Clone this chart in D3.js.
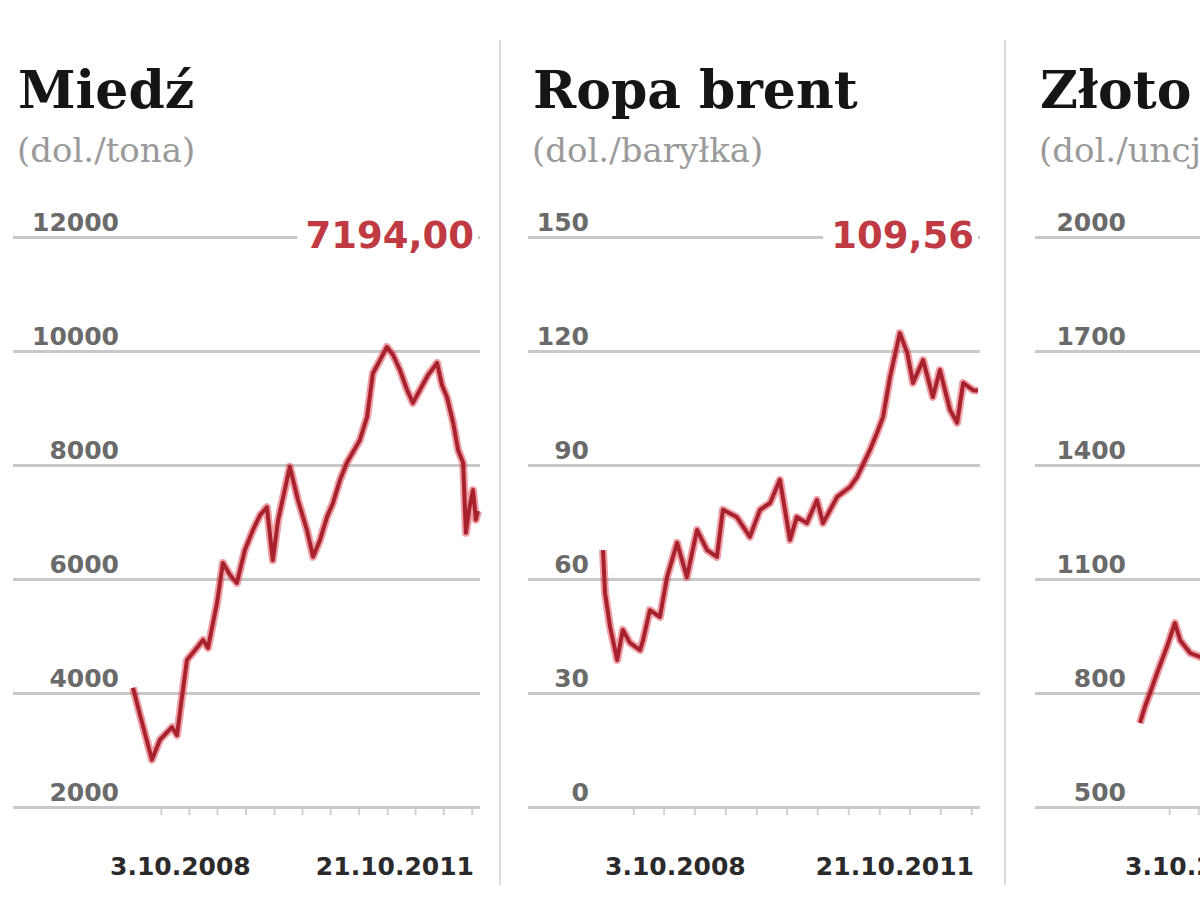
<!DOCTYPE html>
<html>
<head>
<meta charset="utf-8">
<script src="https://cdn.jsdelivr.net/npm/d3@7"></script>
<style>
  body { margin: 0; background: #fff; }
  svg { display: block; }
</style>
</head>
<body>
<svg id="commodities" width="1200" height="923"></svg>
<script>
// Data
const titles = ["Miedź", "Ropa brent", "Złoto"]
const units = ["(dol./tona)", "(dol./baryłka)", "(dol./uncja)"]
const lastLabels = ["7194,00", "109,56", "1640,00"]
const dateLabels = ["3.10.2008", "21.10.2011"]

const copperTicks = [2000, 4000, 6000, 8000, 10000, 12000]
const oilTicks = [0, 30, 60, 90, 120, 150]
const goldTicks = [500, 800, 1100, 1400, 1700, 2000]

const copperDates = ["2008-10-03","2008-10-26","2008-12-03","2008-12-29","2009-02-06","2009-02-22","2009-03-10","2009-03-26","2009-04-21","2009-05-17","2009-06-02","2009-07-01","2009-07-20","2009-08-12","2009-09-03","2009-09-29","2009-10-25","2009-11-17","2009-12-09","2009-12-28","2010-01-14","2010-02-21","2010-03-19","2010-04-17","2010-05-07","2010-05-29","2010-06-21","2010-07-10","2010-08-02","2010-08-24","2010-10-05","2010-10-28","2010-11-16","2010-12-09","2010-12-31","2011-01-20","2011-02-11","2011-03-06","2011-03-25","2011-04-17","2011-05-13","2011-06-11","2011-06-27","2011-07-13","2011-08-02","2011-08-18","2011-09-03","2011-09-12","2011-09-25","2011-10-05","2011-10-14","2011-10-21"]
const copperValues = [4090,3610,2830,3180,3400,3260,3930,4580,4750,4930,4790,5580,6280,6070,5930,6510,6860,7120,7260,6330,7030,7970,7390,6860,6390,6680,7090,7330,7740,8040,8440,8840,9610,9840,10070,9930,9670,9320,9090,9320,9580,9790,9400,9190,8740,8260,8040,6810,7300,7560,7040,7194]

const oilDates = ["2008-10-03","2008-10-09","2008-10-24","2008-11-14","2008-12-01","2008-12-22","2009-01-21","2009-01-30","2009-02-19","2009-03-21","2009-04-11","2009-05-11","2009-06-09","2009-07-09","2009-08-08","2009-09-06","2009-09-24","2009-11-04","2009-12-13","2010-01-12","2010-02-11","2010-03-12","2010-04-11","2010-05-01","2010-05-31","2010-06-30","2010-07-18","2010-08-29","2010-10-06","2010-10-27","2010-12-04","2010-12-25","2011-01-12","2011-02-02","2011-03-03","2011-03-25","2011-04-11","2011-05-11","2011-06-09","2011-06-30","2011-07-30","2011-08-20","2011-09-07","2011-10-06","2011-10-21"]
const oilValues = [67.6,56.3,47.4,38.7,46.6,43.2,41.3,43.9,51.8,50.0,60.5,69.5,60.5,72.9,67.6,65.8,78.2,76.3,71.1,78.2,80.0,86.1,70.3,76.3,74.7,80.8,74.7,81.6,84.2,86.8,93.9,98.4,102.6,113.2,124.7,119.5,111.6,117.6,107.9,115.0,104.5,101.1,111.6,109.7,109.56]

const goldDates = ["2008-10-03","2008-10-18","2008-11-03","2008-11-25","2008-12-10","2008-12-25","2009-01-19","2009-02-04","2009-03-07","2009-04-07","2009-06-15","2009-09-15","2009-12-02","2010-02-05","2010-06-20","2010-08-01","2010-11-08","2011-01-28","2011-04-29","2011-06-30","2011-08-22","2011-09-05","2011-09-26","2011-10-21"]
const goldValues = [721,763,800,853,887,921,984,939,905,895,935,1000,1210,1065,1255,1180,1420,1330,1560,1500,1890,1900,1620,1640]

let svg = d3.select("#commodities")
let parseDate = d3.timeParse("%Y-%m-%d")

// panel layout: left edge of the grid, plot area of the line
let panels = [
  { left: 13,   plotLeft: 133,  plotRight: 478,  dateX: 110,  ticks: copperTicks, dates: copperDates, values: copperValues },
  { left: 528,  plotLeft: 603,  plotRight: 978,  dateX: 605,  ticks: oilTicks,    dates: oilDates,    values: oilValues },
  { left: 1035, plotLeft: 1140, plotRight: 1500, dateX: 1125, ticks: goldTicks,   dates: goldDates,   values: goldValues }
]

let yTop = 237, yBottom = 807

// vertical separators between panels
svg.selectAll(".divider")
  .data([500, 1005])
  .join("line")
  .attr("class", "divider")
  .attr("x1", d => d).attr("x2", d => d)
  .attr("y1", 40).attr("y2", 885)
  .style("stroke", "#dcdcdc")
  .style("stroke-width", "2px")

panels.forEach(function (p, i) {
  let g = svg.append("g")

  let data = p.dates.map((d, j) => ({ date: parseDate(d), value: p.values[j] }))

  let x = d3.scaleTime()
    .domain(d3.extent(data, d => d.date))
    .range([p.plotLeft, p.plotRight])

  let y = d3.scaleLinear()
    .domain(d3.extent(p.ticks))
    .range([yBottom, yTop])

  // title + unit
  g.append("text")
    .attr("x", p.left + 5)
    .attr("y", 108)
    .style("font-family", "'DejaVu Serif', serif")
    .style("font-weight", "bold")
    .style("font-size", "52px")
    .style("fill", "#151515")
    .text(titles[i])

  g.append("text")
    .attr("x", p.left + 4)
    .attr("y", 162)
    .style("font-family", "'DejaVu Serif', serif")
    .style("font-size", "34px")
    .style("fill", "#9a9a9a")
    .text(units[i])

  // horizontal grid
  let yAxis = d3.axisRight(y)
    .tickValues(p.ticks)
    .tickSize(p.plotRight - p.left + 2)
    .tickFormat("")

  let grid = g.append("g")
    .attr("transform", `translate(${p.left},0)`)
    .call(yAxis)
  grid.select(".domain").remove()
  grid.selectAll(".tick line")
    .style("stroke", "#c9c9c9")
    .style("stroke-width", "3px")

  // tick labels, sitting on top of their grid line
  g.selectAll(".ylabel")
    .data(p.ticks)
    .join("text")
    .attr("class", "ylabel")
    .attr("x", p.plotLeft - 14)
    .attr("y", d => y(d) - 6)
    .attr("text-anchor", "end")
    .style("font-family", "'DejaVu Sans', sans-serif")
    .style("font-weight", "bold")
    .style("font-size", "25px")
    .style("fill", "#6a6a6a")
    .text(d => d)

  // small quarterly ticks under the baseline
  let xAxis = d3.axisBottom(x)
    .ticks(d3.timeMonth.every(3))
    .tickSize(6)
    .tickFormat("")
  let xg = g.append("g")
    .attr("transform", `translate(0,${yBottom + 2})`)
    .call(xAxis)
  xg.select(".domain").remove()
  xg.selectAll(".tick line")
    .style("stroke", "#d0d0d0")
    .style("stroke-width", "2px")

  // price line
  let line = d3.line()
    .x(d => x(d.date))
    .y(d => y(d.value))

  g.append("path")
    .datum(data)
    .attr("d", line)
    .style("fill", "none")
    .style("stroke", "#e04452")
    .style("stroke-width", "8px")
    .style("stroke-opacity", "0.5")
    .style("stroke-linejoin", "round")

  g.append("path")
    .datum(data)
    .attr("d", line)
    .style("fill", "none")
    .style("stroke", "#a8222d")
    .style("stroke-width", "4px")
    .style("stroke-linejoin", "round")

  // last value, on the top grid line
  let last = g.append("text")
    .attr("x", p.plotRight - 4)
    .attr("y", yTop + 11)
    .attr("text-anchor", "end")
    .style("font-family", "'DejaVu Sans', sans-serif")
    .style("font-weight", "bold")
    .style("font-size", "37px")
    .style("fill", "#bf3a43")
    .text(lastLabels[i])

  let bb = last.node().getBBox()
  g.insert("rect", () => last.node())
    .attr("x", bb.x - 8)
    .attr("y", bb.y)
    .attr("width", bb.width + 12)
    .attr("height", bb.height)
    .style("fill", "#fff")

  // start / end dates
  g.append("text")
    .attr("x", p.dateX)
    .attr("y", 875)
    .style("font-family", "'DejaVu Sans', sans-serif")
    .style("font-weight", "bold")
    .style("font-size", "25px")
    .style("fill", "#2a2a2a")
    .text(dateLabels[0])

  g.append("text")
    .attr("x", p.plotRight - 4)
    .attr("y", 875)
    .attr("text-anchor", "end")
    .style("font-family", "'DejaVu Sans', sans-serif")
    .style("font-weight", "bold")
    .style("font-size", "25px")
    .style("fill", "#2a2a2a")
    .text(dateLabels[1])
})
</script>
</body>
</html>
